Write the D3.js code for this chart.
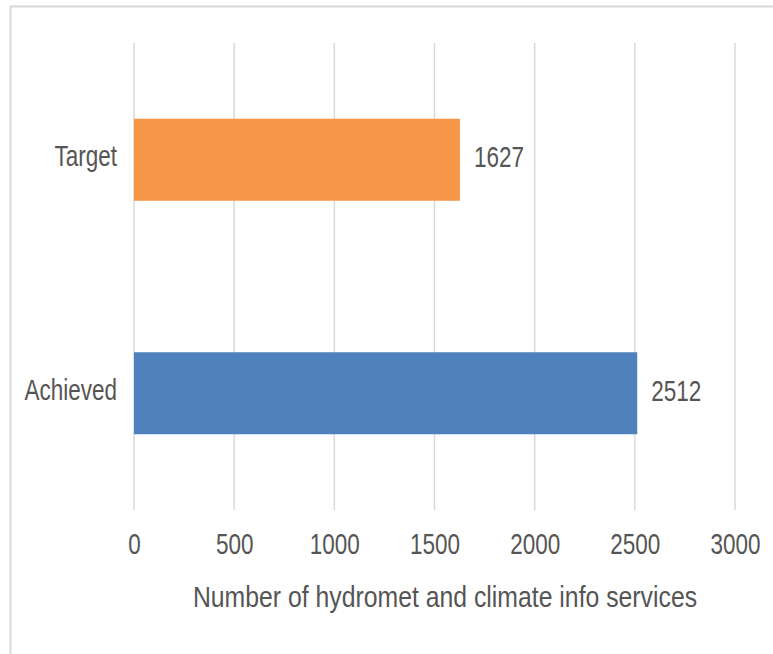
<!DOCTYPE html>
<html>
<head>
<meta charset="utf-8">
<script src="https://cdn.jsdelivr.net/npm/d3@7"></script>
<style>
  html, body { margin: 0; padding: 0; background: #fff; }
  svg { display: block; }
  text { font-family: "Liberation Sans", Arial, Helvetica, sans-serif; fill: #555555; }
</style>
</head>
<body>
<svg id="chart" width="773" height="654"></svg>
<script>
// Hydromet and climate information services: target vs achieved
const categories = ["Target", "Achieved"];
const values = [1627, 2512];
const barColors = ["#F79646", "#4F81BD"];
const tickValues = [0, 500, 1000, 1500, 2000, 2500, 3000];
const axisTitle = "Number of hydromet and climate info services";

const svg = d3.select("#chart");
const plot = { left: 134, right: 735, top: 43, bottom: 510 };
const squeeze = 0.75; // narrow glyph look

// Outer frame
svg.append("rect")
  .attr("x", 10.5).attr("y", 6.5)
  .attr("width", 790).attr("height", 670)
  .attr("fill", "none").attr("stroke", "#d9d9d9").attr("stroke-width", 2);

const x = d3.scaleLinear().domain([0, 3000]).range([plot.left, plot.right]);
const p = 1 - 82 / ((plot.bottom - plot.top) / categories.length);
const y = d3.scaleBand().domain(categories).range([plot.top, plot.bottom])
  .paddingInner(p).paddingOuter(p / 2);

// Vertical gridlines
svg.append("g").selectAll("line").data(tickValues).join("line")
  .attr("x1", d => x(d)).attr("x2", d => x(d))
  .attr("y1", plot.top).attr("y2", plot.bottom)
  .attr("stroke", "#d9d9d9").attr("stroke-width", 1.5);

// X axis tick labels
const xAxis = d3.axisBottom(x).tickValues(tickValues).tickSize(0).tickPadding(0)
  .tickFormat(d3.format("d"));
const gx = svg.append("g").attr("transform", `translate(0,${plot.bottom})`).call(xAxis);
gx.select(".domain").remove();
gx.selectAll("text")
  .attr("x", 0).attr("y", 0).attr("dy", 0)
  .attr("transform", `translate(0,44) scale(${squeeze},1)`)
  .style("font-size", "30px").attr("fill", "#555555")
  .style("font-family", "'Liberation Sans', Arial, sans-serif");

// Bars
svg.append("g").selectAll("rect").data(categories).join("rect")
  .attr("x", x(0))
  .attr("y", d => y(d))
  .attr("width", (d, i) => x(values[i]) - x(0))
  .attr("height", y.bandwidth())
  .attr("fill", (d, i) => barColors[i]);

// Category labels
const yAxis = d3.axisLeft(y).tickSize(0).tickPadding(17);
const gy = svg.append("g").attr("transform", `translate(${plot.left},0)`).call(yAxis);
gy.select(".domain").remove();
gy.selectAll("text")
  .attr("x", 0).attr("dy", "0.22em")
  .attr("text-anchor", "end")
  .attr("transform", `translate(-17,0) scale(${squeeze},1)`)
  .style("font-size", "30px").attr("fill", "#555555")
  .style("font-family", "'Liberation Sans', Arial, sans-serif");

// Value labels
svg.append("g").selectAll("text").data(categories).join("text")
  .attr("transform", (d, i) =>
    `translate(${x(values[i]) + 14},${y(d) + y.bandwidth() / 2}) scale(${squeeze},1)`)
  .attr("dy", "0.25em")
  .style("font-size", "30px")
  .text((d, i) => values[i]);

// Axis title
svg.append("text")
  .attr("transform", "translate(445,607) scale(0.855,1)")
  .attr("text-anchor", "middle")
  .style("font-size", "29px")
  .text(axisTitle);
</script>
</body>
</html>
